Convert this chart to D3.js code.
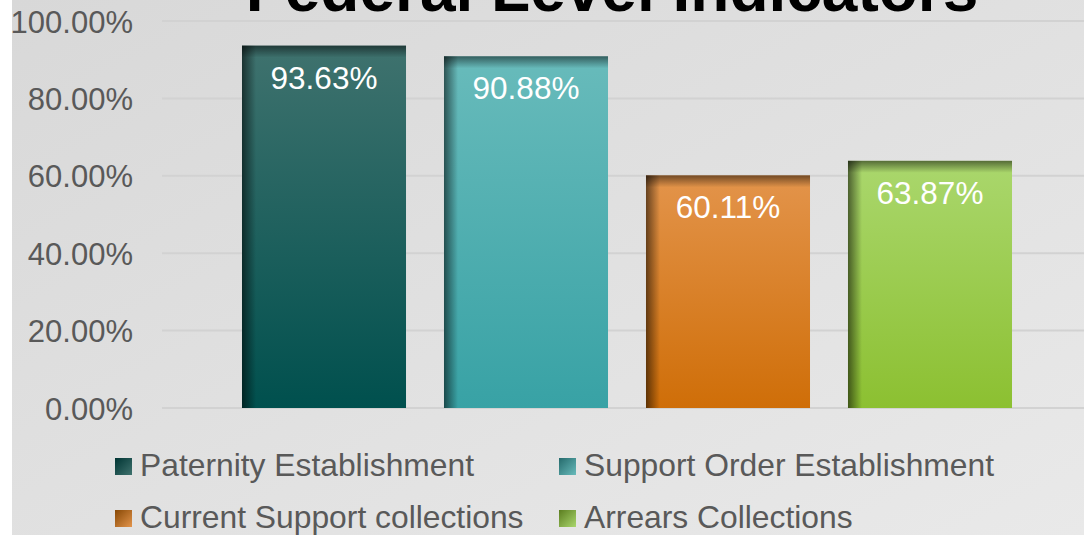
<!DOCTYPE html>
<html><head><meta charset="utf-8">
<script src="https://cdn.jsdelivr.net/npm/d3@7"></script>
<style>html,body{margin:0;padding:0;background:#fff;overflow:hidden}</style>
</head><body>
<script>
const title = "Federal Level Indicators";
const seriesNames = ["Paternity Establishment","Support Order Establishment","Current Support collections","Arrears Collections"];
const seriesValues = [93.63, 90.88, 60.11, 63.87];
const tickValues = [0, 20, 40, 60, 80, 100];
const topColors = ["#3f726e","#68bbbb","#e3944b","#aad76d"];
const bottomColors = ["#00504e","#38a2a5","#cf6e08","#8cc031"];

const W = 1084, H = 535;
const svg = d3.select("body").append("svg").attr("width", W).attr("height", H);
const defs = svg.append("defs");

const bg = defs.append("linearGradient").attr("id","bg").attr("x1","0").attr("y1","0").attr("x2","1").attr("y2","1");
bg.append("stop").attr("offset","0").attr("stop-color","#d8d8d8");
bg.append("stop").attr("offset","1").attr("stop-color","#e9e9e9");
svg.append("rect").attr("x",12).attr("y",0).attr("width",W-12).attr("height",H).attr("fill","url(#bg)");

const y = d3.scaleLinear().domain([0,100]).range([408,21]);
const x = d3.scaleBand().domain(seriesNames).range([162,1092]).paddingInner(0.188).paddingOuter(0.396);

// gridlines
svg.append("g").selectAll("line").data(tickValues).join("line")
  .attr("x1",162).attr("x2",W).attr("y1",d=>y(d)).attr("y2",d=>y(d))
  .attr("stroke","#d2d2d2").attr("stroke-width",2);

// axis labels
const axis = d3.axisLeft(y).tickValues(tickValues).tickFormat(d=>d.toFixed(2)+"%").tickSize(0).tickPadding(0);
const ag = svg.append("g").attr("transform","translate(133,0)").call(axis);
ag.select(".domain").remove();
ag.selectAll("text").attr("font-family","Liberation Sans, Arial, sans-serif").attr("font-size",31).attr("fill","#595959").attr("dy","0.36em");

// gradients per bar
seriesNames.forEach((s,i)=>{
  const g = defs.append("linearGradient").attr("id","bar"+i).attr("x1","0").attr("y1","0").attr("x2","0").attr("y2","1");
  g.append("stop").attr("offset","0").attr("stop-color",topColors[i]);
  g.append("stop").attr("offset","1").attr("stop-color",bottomColors[i]);
  const sw = defs.append("linearGradient").attr("id","sw"+i).attr("x1","0").attr("y1","0").attr("x2","1").attr("y2","1");
  sw.append("stop").attr("offset","0").attr("stop-color",d3.color(bottomColors[i]).darker(1.2));
  sw.append("stop").attr("offset","1").attr("stop-color",topColors[i]);
});
const lsh = defs.append("linearGradient").attr("id","lsh").attr("x1","0").attr("y1","0").attr("x2","1").attr("y2","0");
lsh.append("stop").attr("offset","0").attr("stop-color","#000").attr("stop-opacity",0.55);
lsh.append("stop").attr("offset","1").attr("stop-color","#000").attr("stop-opacity",0);
const tsh = defs.append("linearGradient").attr("id","tsh").attr("x1","0").attr("y1","0").attr("x2","0").attr("y2","1");
tsh.append("stop").attr("offset","0").attr("stop-color","#000").attr("stop-opacity",0.5);
tsh.append("stop").attr("offset","1").attr("stop-color","#000").attr("stop-opacity",0);

const bars = svg.append("g").selectAll("g").data(seriesNames).join("g");
bars.append("rect").attr("x",d=>x(d)).attr("y",(d,i)=>y(seriesValues[i]))
  .attr("width",x.bandwidth()).attr("height",(d,i)=>y(0)-y(seriesValues[i]))
  .attr("fill",(d,i)=>`url(#bar${i})`);
bars.append("rect").attr("x",d=>x(d)).attr("y",(d,i)=>y(seriesValues[i]))
  .attr("width",14).attr("height",(d,i)=>y(0)-y(seriesValues[i]))
  .attr("fill","url(#lsh)");
bars.append("rect").attr("x",d=>x(d)).attr("y",(d,i)=>y(seriesValues[i]))
  .attr("width",x.bandwidth()).attr("height",12)
  .attr("fill","url(#tsh)");
bars.append("text").attr("x",d=>x(d)+x.bandwidth()/2).attr("y",(d,i)=>y(seriesValues[i])+43)
  .attr("text-anchor","middle").attr("font-family","Liberation Sans, Arial, sans-serif")
  .attr("font-size",31.5).attr("fill","#fff").text((d,i)=>seriesValues[i].toFixed(2)+"%");

// title (cut off at the top edge, as in the reference)
svg.append("text").attr("x",612).attr("y",11).attr("text-anchor","middle")
  .attr("font-family","Liberation Sans, Arial, sans-serif").attr("font-weight","bold")
  .attr("font-size",64).attr("fill","#000").text(title);

// legend
const legPos = [[115,458],[559,458],[115,510],[559,510]];
const lg = svg.append("g").selectAll("g").data(seriesNames).join("g")
  .attr("transform",(d,i)=>`translate(${legPos[i][0]},${legPos[i][1]})`);
lg.append("rect").attr("width",17).attr("height",17).attr("fill",(d,i)=>`url(#sw${i})`);
lg.append("text").attr("x",25).attr("y",18).attr("font-family","Liberation Sans, Arial, sans-serif")
  .attr("font-size",31.8).attr("fill","#595959").text(d=>d);
</script>
</body></html>
